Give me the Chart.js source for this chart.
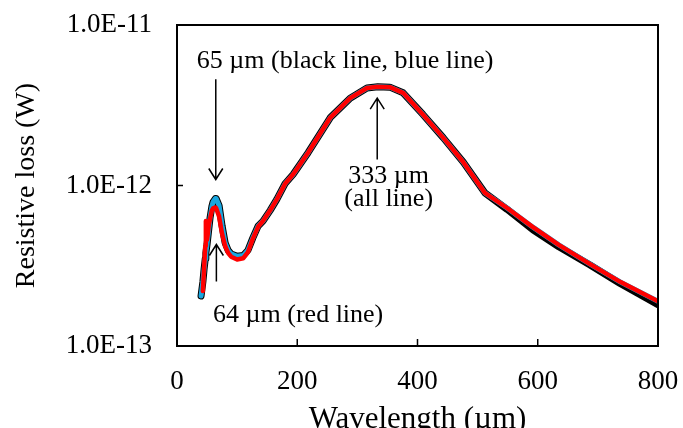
<!DOCTYPE html>
<html>
<head>
<meta charset="utf-8">
<title>Resistive loss</title>
<script src="https://cdn.jsdelivr.net/npm/chart.js@4.4.1/dist/chart.umd.min.js"></script>
<style>
  html, body { margin: 0; padding: 0; background: #fff; }
</style>
</head>
<body>
<canvas id="lossChart" width="683" height="428"></canvas>
<script>
// Wavelength samples (µm) shared by the three curves
const wavelength = [40, 43, 45, 47, 48, 50, 53, 55, 58, 60, 64, 65, 70, 75, 80, 85, 90, 100, 110, 118,
  126, 135, 143, 155, 166, 180, 193, 218, 255, 288, 316, 334, 354, 376, 409, 443, 476, 512,
  549, 592, 635, 687, 737, 800];

// Resistive loss (W)
const blackLoss = [2.05e-13, 2.5e-13, 3.0e-13, 3.5e-13, 3.8e-13, 4.3e-13, 5.4e-13, 6.3e-13, 7.4e-13, 7.9e-13,
  8.3e-13, 8.3e-13, 7.5e-13, 5.6e-13, 4.4e-13, 3.95e-13, 3.75e-13, 3.62e-13, 3.66e-13, 3.95e-13,
  4.7e-13, 5.6e-13, 6.0e-13, 7.0e-13, 8.2e-13, 1.03e-12, 1.17e-12, 1.6e-12, 2.65e-12, 3.5e-12,
  4.05e-12, 4.12e-12, 4.1e-12, 3.78e-12, 2.77e-12, 1.98e-12, 1.4e-12, 9.0e-13,
  7.1e-13, 5.3e-13, 4.15e-13, 3.2e-13, 2.45e-13, 1.81e-13];

const blueLoss = [2.05e-13, 2.5e-13, 3.0e-13, 3.5e-13, 3.8e-13, 4.3e-13, 5.4e-13, 6.3e-13, 7.4e-13, 7.9e-13,
  8.3e-13, 8.3e-13, 7.5e-13, 5.6e-13, 4.4e-13, 3.95e-13, 3.75e-13, 3.62e-13, 3.66e-13, 3.95e-13,
  4.7e-13, 5.6e-13, 6.0e-13, 7.0e-13, 8.2e-13, 1.03e-12, 1.17e-12, 1.6e-12, 2.65e-12, 3.5e-12,
  4.05e-12, 4.12e-12, 4.1e-12, 3.78e-12, 2.77e-12, 1.98e-12, 1.4e-12, 9.0e-13,
  7.24e-13, 5.5e-13, 4.27e-13, 3.24e-13, 2.51e-13, 1.9e-13];

const redLoss = [null, 2.2e-13, 3.0e-13, 4.2e-13, 6.0e-13, 4.6e-13, 5.7e-13, 6.2e-13, 7.0e-13, 7.2e-13,
  7.3e-13, 7.25e-13, 6.4e-13, 5.0e-13, 4.2e-13, 3.8e-13, 3.6e-13, 3.46e-13, 3.52e-13, 3.85e-13,
  4.65e-13, 5.55e-13, 6.0e-13, 7.0e-13, 8.2e-13, 1.03e-12, 1.17e-12, 1.6e-12, 2.65e-12, 3.5e-12,
  4.05e-12, 4.12e-12, 4.1e-12, 3.78e-12, 2.77e-12, 1.98e-12, 1.4e-12, 9.0e-13,
  7.24e-13, 5.5e-13, 4.27e-13, 3.24e-13, 2.51e-13, 1.9e-13];

// Axis ticks
const xTicks = [0, 200, 400, 600, 800];
const yTicks = [1e-13, 1e-12, 1e-11];

// Peak labels and their arrows (data coordinates)
const arrows = [
  { x: 64.5, from: 4.6e-12, to: 1.09e-12 },
  { x: 333, from: 1.45e-12, to: 3.5e-12 },
  { x: 65.5, from: 2.52e-13, to: 4.29e-13 }
];
const notes = [
  { text: '65 µm (black line, blue line)', x: 33, y: 5.36e-12, align: 'left' },
  { text: '333 µm', x: 352, y: 1.03e-12, align: 'center' },
  { text: '(all line)', x: 352, y: 7.4e-13, align: 'center' },
  { text: '64 µm (red line)', x: 60, y: 1.42e-13, align: 'left' }
];

const FONT = "'Liberation Serif', 'Times New Roman', serif";
Chart.defaults.font.family = FONT;
Chart.defaults.color = '#000';

function toPoints(values) {
  return wavelength.map((w, i) => ({ x: w, y: values[i] }));
}

// Box frame, inward tick marks and the peak annotations
const framePlugin = {
  id: 'frame',
  afterDatasetsDraw(chart) {
    const { ctx, chartArea: a, scales: { x, y } } = chart;
    ctx.save();
    ctx.strokeStyle = '#000';
    ctx.lineWidth = 2;
    ctx.strokeRect(a.left, a.top, a.right - a.left, a.bottom - a.top);

    ctx.lineWidth = 1.5;
    ctx.beginPath();
    xTicks.forEach(v => {
      const px = x.getPixelForValue(v);
      ctx.moveTo(px, a.bottom);
      ctx.lineTo(px, a.bottom - 7);
    });
    yTicks.forEach(v => {
      const py = y.getPixelForValue(v);
      ctx.moveTo(a.left, py);
      ctx.lineTo(a.left + 6, py);
    });
    ctx.stroke();

    // arrows
    ctx.lineWidth = 1.5;
    arrows.forEach(ar => {
      const px = x.getPixelForValue(ar.x);
      const y0 = y.getPixelForValue(ar.from);
      const y1 = y.getPixelForValue(ar.to);
      const dir = y1 > y0 ? 1 : -1;
      ctx.beginPath();
      ctx.moveTo(px, y0);
      ctx.lineTo(px, y1);
      ctx.moveTo(px - 7, y1 - dir * 11);
      ctx.lineTo(px, y1);
      ctx.lineTo(px + 7, y1 - dir * 11);
      ctx.stroke();
    });

    // labels
    ctx.fillStyle = '#000';
    ctx.font = '26px ' + FONT;
    ctx.textBaseline = 'alphabetic';
    notes.forEach(n => {
      ctx.textAlign = n.align;
      ctx.fillText(n.text, x.getPixelForValue(n.x), y.getPixelForValue(n.y));
    });
    ctx.restore();
  }
};

const ctx = document.getElementById('lossChart').getContext('2d');
const lossChart = new Chart(ctx, {
  type: 'line',
  data: {
    datasets: [
      {
        label: 'red',
        data: toPoints(redLoss),
        borderColor: '#ff0000',
        borderWidth: 4.5,
        order: 1
      },
      {
        label: 'blue',
        data: toPoints(blueLoss),
        borderColor: '#1aa7e0',
        borderWidth: 5,
        order: 2
      },
      {
        label: 'black',
        data: toPoints(blackLoss),
        borderColor: '#000000',
        borderWidth: 7,
        order: 3
      }
    ]
  },
  options: {
    responsive: false,
    animation: false,
    events: [],
    layout: { padding: { top: 25, right: 25, left: 0, bottom: 0 } },
    elements: {
      point: { radius: 0 },
      line: { tension: 0, borderJoinStyle: 'round', borderCapStyle: 'round' }
    },
    plugins: {
      legend: { display: false },
      tooltip: { enabled: false }
    },
    scales: {
      x: {
        type: 'linear',
        min: 0,
        max: 800,
        grid: { display: false, drawTicks: false },
        border: { display: false },
        afterBuildTicks: scale => { scale.ticks = xTicks.map(v => ({ value: v })); },
        // fixed height, and no extra room for the end labels
        afterFit: scale => {
          scale.height = 82;
          scale.paddingLeft = 0;
          scale.paddingRight = 0;
        },
        ticks: {
          padding: 20,
          maxRotation: 0,
          font: { size: 27 },
          callback: v => String(v)
        },
        title: {
          display: true,
          text: 'Wavelength (µm)',
          font: { size: 31, lineHeight: 1 },
          padding: { top: 0, bottom: -7 }
        }
      },
      y: {
        type: 'logarithmic',
        min: 1e-13,
        max: 1e-11,
        grid: { display: false, drawTicks: false },
        border: { display: false },
        afterBuildTicks: scale => { scale.ticks = yTicks.map(v => ({ value: v })); },
        afterFit: scale => {
          scale.width = 177;
          scale.paddingTop = 0;
          scale.paddingBottom = 0;
        },
        ticks: {
          padding: 25,
          font: { size: 27 },
          callback: v => Number(v).toExponential(1).toUpperCase()
        },
        title: {
          display: true,
          text: 'Resistive loss (W)',
          font: { size: 28, lineHeight: 1.2 },
          padding: { top: 10, bottom: 0 }
        }
      }
    }
  },
  plugins: [framePlugin]
});
</script>
</body>
</html>
